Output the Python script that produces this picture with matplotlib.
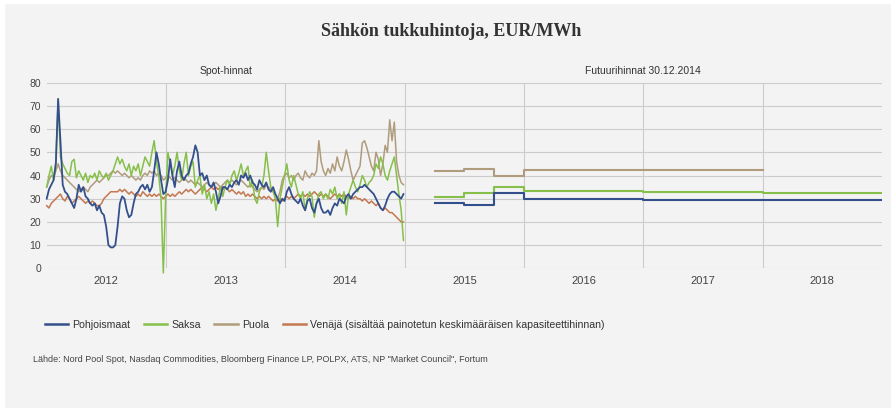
import numpy as np
import matplotlib
matplotlib.use('Agg')
import matplotlib.pyplot as plt
from matplotlib.patches import Rectangle

plt.rcParams['font.family'] = ['Liberation Sans Narrow', 'Liberation Sans', 'DejaVu Sans']

# weekly spot prices 2012-2014, EUR/MWh
pohjoismaat = [
    30, 34, 36, 38, 45, 73, 55, 36, 33, 32, 30, 28, 26, 30, 36, 33, 35, 31, 30, 28,
    27, 28, 25, 27, 24, 23, 18, 10, 9, 9, 10, 18, 28, 31, 30, 25, 22, 23, 28, 32,
    33, 35, 36, 34, 36, 33, 35, 42, 50, 45, 38, 32,
    33, 38, 47, 40, 35, 42, 46, 40, 38, 40, 41, 45, 48, 53, 50, 40, 41, 38, 40, 36,
    35, 37, 33, 28, 31, 35, 35, 34, 36, 35, 37, 38, 36, 40, 39, 41, 38, 40, 37, 36,
    34, 38, 36, 35, 37, 34, 33, 35, 32, 30, 28, 30,
    29, 33, 35, 32, 30, 29, 28, 30, 27, 25, 29, 30, 26, 24, 28, 30, 26, 24, 24, 25,
    23, 26, 28, 27, 30, 29, 28, 31, 32, 30, 32, 33, 34, 35, 35, 36, 35, 34, 33, 32,
    30, 28, 26, 25, 27, 30, 32, 33, 33, 32, 31, 30, 32,
]
saksa = [
    35, 40, 44, 38, 46, 73, 48, 45, 43, 41, 40, 46, 47, 39, 42, 40, 38, 41, 37, 40,
    39, 41, 38, 42, 40, 39, 41, 38, 40, 42, 45, 48, 45, 47, 44, 42, 45, 40, 44, 42,
    45, 40, 44, 48, 46, 44, 50, 55, 46, 40, 30, -2,
    30, 50, 45, 40, 44, 50, 42, 38, 45, 50, 40, 44, 46, 35, 38, 40, 32, 36, 30, 33,
    28, 32, 25, 30, 35, 31, 35, 38, 36, 40, 42, 38, 41, 45, 40, 42, 44, 35, 38, 30,
    28, 33, 35, 40, 50, 42, 35, 33, 30, 18, 30, 35,
    40, 45, 38, 35, 40, 36, 32, 30, 33, 25, 30, 33, 31, 22, 28, 32, 33, 30, 32, 30,
    34, 32, 35, 30, 32, 28, 33, 23, 32, 35, 38, 35, 33, 36, 40, 38, 35, 37, 38, 40,
    45, 43, 48, 45, 40, 38, 42, 45, 48, 40, 32, 25, 12,
]
puola = [
    35, 38, 40, 39, 42, 45, 42, 40, 39, 38, 37, 36, 35, 34, 33, 34, 35, 34, 33, 35,
    36, 37, 38, 37, 38, 39, 40, 40, 41, 42, 41, 42, 41, 40, 41, 40, 39, 40, 39, 38,
    39, 38, 40, 41, 40, 42, 41, 42, 40, 41, 40, 38,
    39, 40, 39, 38, 39, 38, 37, 38, 39, 38, 37, 38, 37, 36, 37, 36, 35, 36, 37, 36,
    35, 36, 37, 36, 35, 36, 37, 38, 37, 38, 37, 36, 37, 38, 37, 36, 35, 36, 35, 34,
    33, 34, 35, 34, 36, 35, 34, 33, 32, 30, 33, 38,
    40, 41, 39, 40, 38, 40, 41, 39, 38, 42, 40, 39, 41, 40, 42, 55, 46, 42, 40, 43,
    41, 45, 42, 48, 44, 42, 46, 51, 47, 42, 38, 40, 42, 44, 54, 55, 52, 48, 44, 42,
    50, 47, 40, 45, 53, 50, 64, 55, 63, 46, 40, 37, 36,
]
venaja = [
    27, 26, 28, 29, 30, 31, 32, 30, 29, 31, 30, 28, 29, 30, 31, 30, 29, 28, 29, 28,
    29, 28, 27, 27, 28, 30, 31, 32, 33, 33, 33, 33, 34, 33, 34, 33, 32, 33, 32, 31,
    32, 31, 33, 32, 31, 32, 31, 32, 31, 32, 31, 30,
    31, 32, 31, 32, 31, 32, 33, 32, 33, 34, 33, 34, 33, 32, 33, 34, 35, 34, 33, 34,
    35, 34, 35, 34, 35, 34, 35, 34, 33, 34, 33, 32, 33, 32, 33, 31, 32, 31, 32, 31,
    30, 31, 30, 31, 30, 31, 30, 29, 30, 29, 30, 29,
    30, 31, 30, 31, 30, 31, 32, 31, 32, 31, 32, 31, 32, 33, 32, 31, 32, 31, 32, 31,
    30, 31, 32, 31, 32, 31, 32, 31, 30, 31, 30, 31, 30, 30, 29, 30, 29, 28, 29, 28,
    27, 28, 26, 25, 26, 25, 24, 24, 23, 22, 21, 20, 20,
]

# futures 30.12.2014: Q2-15, Q3-15, Q4-15, 2016, 2017, 2018
fut_start = [2015.25, 2015.5, 2015.75, 2016.0, 2017.0, 2018.0]
fut_end = 2019.0
fut_pohjoismaat = [28.0, 27.4, 32.3, 29.7, 29.5, 29.5]
fut_saksa = [30.9, 32.3, 35.2, 33.3, 33.0, 32.6]
fut_puola = [42.0, 42.8, 39.8, 42.4, 42.4]

years = [2012, 2013, 2014, 2015, 2016, 2017, 2018]
names = ['Pohjoismaat', 'Saksa', 'Puola',
         'Venäjä (sisältää painotetun keskimääräisen kapasiteettihinnan)']
colors = ['#34508c', '#86c04a', '#b09c7c', '#c47850']

fig = plt.figure(figsize=(8.91, 4.08), dpi=100)
fig.patch.set_facecolor('#f3f3f3')
# white edge at top / left as in the scan
fig.add_artist(Rectangle((0, 1 - 3 / 408), 1, 3 / 408, transform=fig.transFigure,
                         color='white', zorder=0))
fig.add_artist(Rectangle((0, 0), 4 / 891, 1, transform=fig.transFigure,
                         color='white', zorder=0))

ax = fig.add_axes([46.7 / 891, 1 - 268.3 / 408, (882 - 46.7) / 891, (268.3 - 82.7) / 408])
ax.set_facecolor('none')

t = 2012 + np.arange(len(pohjoismaat)) / 52.18
spot = [pohjoismaat, saksa, puola, venaja]
order = [3, 2, 1, 0]
lws = [1.3, 1.1, 1.1, 1.1]
for k in order:
    ax.plot(t, spot[k], color=colors[k], lw=lws[k], clip_on=False, zorder=3 + (3 - k))

def steps(starts, vals, end):
    xs, ys = [], []
    for i, v in enumerate(vals):
        e = starts[i + 1] if i + 1 < len(starts) else end
        xs += [starts[i], e]
        ys += [v, v]
    return xs, ys

for vals, c, end in [(fut_puola, colors[2], 2018.0),
                     (fut_saksa, colors[1], fut_end),
                     (fut_pohjoismaat, colors[0], fut_end)]:
    xs, ys = steps(fut_start, vals, end)
    ax.plot(xs, ys, color=c, lw=1.5, zorder=4)

ax.set_xlim(2012, 2019)
ax.set_ylim(0, 80)
ax.set_yticks(range(0, 81, 10))
ax.set_xticks(range(2013, 2019))
ax.set_xticklabels([])
ax.tick_params(length=0, axis='both')
ax.tick_params(axis='y', labelsize=7.5, labelcolor='#444444', pad=4)
ax.grid(True, color='#cccccc', lw=0.8)
for s in ax.spines.values():
    s.set_visible(False)

for y in years:
    ax.text(y + 0.5, -5.5, str(y), ha='center', va='center', fontsize=8, color='#444444')

ax.text(2013.5, 85, 'Spot-hinnat', ha='center', va='center', fontsize=7.5, color='#333333')
ax.text(2017.0, 85, 'Futuurihinnat 30.12.2014', ha='center', va='center',
        fontsize=7.5, color='#333333')

fig.text(451 / 891, 1 - 31.5 / 408, 'Sähkön tukkuhintoja, EUR/MWh', ha='center', va='center',
         fontsize=13, fontweight='bold', family=['Liberation Serif', 'DejaVu Serif'],
         color='#333333')

handles = [plt.Line2D([], [], color=c, lw=1.8) for c in colors]
fig.legend(handles, names, loc='center left', bbox_to_anchor=(35 / 891, 1 - 325 / 408),
           ncol=4, frameon=False, fontsize=7.6, handlelength=2.2, handletextpad=0.4,
           columnspacing=1.3, labelcolor='#333333')

fig.text(33 / 891, 1 - 360 / 408,
         'Lähde: Nord Pool Spot, Nasdaq Commodities, Bloomberg Finance LP, POLPX, ATS, '
         'NP "Market Council", Fortum', ha='left', va='center', fontsize=6.5, color='#444444')

fig.savefig('out.png', dpi=100, facecolor=fig.get_facecolor())
